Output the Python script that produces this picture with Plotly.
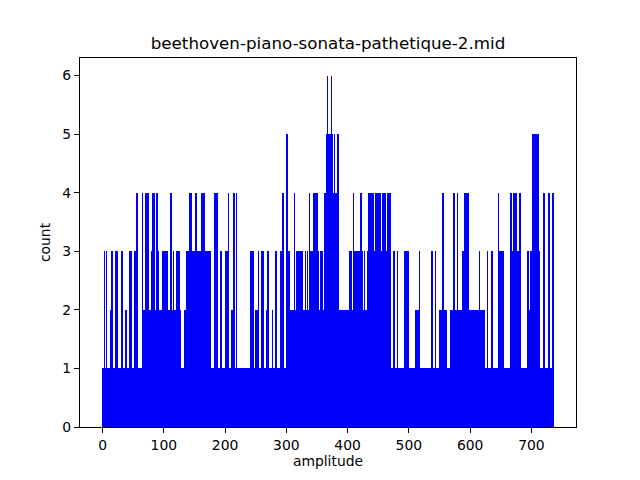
import plotly.graph_objects as go

# histogram of note amplitudes, one bin per integer amplitude (0..735)
title = "beethoven-piano-sonata-pathetique-2.mid"
n_bins = 736
base_count = 1

# runs of bins (start, stop) whose count is above the base
level2_runs = [
    (13, 14), (38, 39), (53, 56), (65, 106), (108, 128), (134, 137), (171, 172),
    (211, 212), (250, 254), (268, 269), (277, 278), (291, 296), (302, 470),
    (511, 512), (514, 515), (550, 556), (558, 559), (561, 562), (568, 611),
    (612, 613), (617, 623), (697, 698),
]
level3_runs = [
    (3, 4), (6, 7), (15, 16), (21, 25), (31, 32), (44, 45), (47, 48), (52, 53),
    (80, 81), (89, 91), (98, 99), (101, 102), (105, 106), (115, 116), (120, 125),
    (137, 160), (166, 171), (173, 177), (193, 194), (201, 205), (242, 243),
    (245, 246), (254, 255), (260, 263), (270, 271), (283, 284), (291, 292),
    (304, 305), (316, 327), (331, 332), (334, 335), (340, 344), (352, 353),
    (355, 356), (358, 359), (362, 383), (403, 404), (406, 407), (412, 421),
    (424, 425), (427, 428), (433, 470), (475, 476), (481, 482), (493, 494),
    (496, 497), (499, 500), (517, 518), (537, 538), (543, 544), (588, 589),
    (615, 616), (628, 629), (635, 636), (648, 655), (668, 677), (679, 680),
    (694, 695), (699, 713),
]
level4_runs = [
    (56, 57), (65, 66), (70, 71), (74, 75), (82, 85), (88, 89), (111, 112),
    (142, 146), (151, 154), (162, 163), (165, 166), (183, 184), (186, 187),
    (205, 206), (214, 215), (218, 219), (294, 295), (313, 314), (337, 338),
    (344, 351), (362, 382), (409, 410), (421, 422), (434, 441), (442, 443),
    (445, 453), (457, 462), (465, 470), (555, 556), (573, 574), (579, 580),
    (591, 592), (594, 595), (597, 598), (646, 647), (666, 667), (671, 676),
    (681, 682), (720, 721), (728, 729), (735, 736),
]
level5_runs = [(301, 302), (365, 369), (371, 376), (378, 379), (384, 385), (702, 712)]
level6_runs = [(367, 368), (373, 374)]

counts = [base_count] * n_bins
for level, runs in [(2, level2_runs), (3, level3_runs), (4, level4_runs),
                    (5, level5_runs), (6, level6_runs)]:
    for start, stop in runs:
        for i in range(start, stop):
            counts[i] = level

bin_centers = [i + 0.5 for i in range(n_bins)]

font = dict(family="DejaVu Sans", size=13.9, color="black")

fig = go.Figure(go.Bar(
    x=bin_centers,
    y=counts,
    width=1,
    marker=dict(color="#0000ff", line=dict(width=0)),
    hoverinfo="x+y",
))

axis_style = dict(
    showgrid=False, zeroline=False, showline=True, linecolor="black",
    linewidth=1.1, mirror=True, ticks="outside", ticklen=5, tickwidth=1.1,
    tickcolor="black", tickfont=font,
)

# the page body adds an 8px offset, so margins are shifted to compensate
fig.update_layout(
    width=640, height=480,
    margin=dict(l=72, r=72, t=50, b=61),
    paper_bgcolor="white", plot_bgcolor="white",
    bargap=0, showlegend=False,
    font=font,
    title=dict(text=title, xref="paper", x=0.5, xanchor="center",
               y=1 - 35 / 480, yanchor="middle",
               font=dict(family="DejaVu Sans", size=16.7, color="black")),
    xaxis=dict(range=[-36.8, 772.8], tickvals=[0, 100, 200, 300, 400, 500, 600, 700],
               title=dict(text="amplitude", font=font, standoff=4), **axis_style),
    yaxis=dict(range=[0, 6.3], tickvals=[0, 1, 2, 3, 4, 5, 6],
               title=dict(text="count", font=font, standoff=8), **axis_style),
)

fig.write_html("out.html")
